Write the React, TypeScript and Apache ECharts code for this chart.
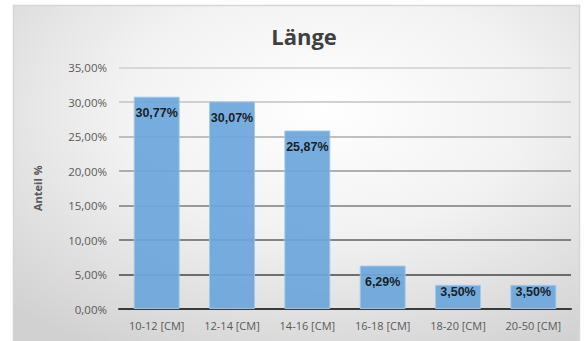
import React, { useEffect, useRef } from "react";
import * as echarts from "echarts";

const categories = ["10-12 [CM]", "12-14 [CM]", "14-16 [CM]", "16-18 [CM]", "18-20 [CM]", "20-50 [CM]"];
const shares = [30.77, 30.07, 25.87, 6.29, 3.5, 3.5];
const yTicks = [0, 5, 10, 15, 20, 25, 30, 35];

const fmt = (v: number) => v.toFixed(2).replace(".", ",") + "%";

// grid lines darken towards the baseline
const gridColors = ["#3a3a3a", "#454545", "#626262", "#7c7c7c", "#979797", "#adadad", "#c2c2c2", "#d0d0d0"];

export default function App() {
  const ref = useRef<HTMLDivElement>(null);
  useEffect(() => {
    if (!ref.current) return;
    const chart = echarts.init(ref.current, null, { renderer: "svg" });
    chart.setOption({
      animation: false,
      backgroundColor: "#ffffff",
      graphic: [
        {
          type: "rect",
          z: -10,
          shape: { x: 13.5, y: 5.5, width: 566, height: 345 },
          style: {
            fill: {
              type: "radial",
              x: 0.55,
              y: 0.3,
              r: 0.8,
              colorStops: [
                { offset: 0, color: "#ffffff" },
                { offset: 0.45, color: "#f2f2f2" },
                { offset: 1, color: "#d1d1d1" },
              ],
            },
            stroke: "#d6d6d6",
            lineWidth: 1.5,
          },
        },
      ],
      title: {
        text: "Länge",
        left: 299,
        top: 20,
        textAlign: "center",
        textStyle: { fontFamily: "Open Sans", fontSize: 22, fontWeight: "bold", color: "#404040" },
      },
      grid: { left: 119, right: 14, top: 67.5, bottom: 32, containLabel: false },
      xAxis: {
        type: "category",
        data: categories,
        axisTick: { show: false },
        axisLine: { show: true, lineStyle: { color: "#3a3a3a", width: 2 } },
        axisLabel: { fontFamily: "Open Sans", fontSize: 11, color: "#595959", margin: 11 },
      },
      yAxis: {
        type: "value",
        min: yTicks[0],
        max: yTicks[yTicks.length - 1],
        interval: 5,
        name: "Anteil %",
        nameLocation: "middle",
        nameGap: 76,
        nameTextStyle: { fontFamily: "Open Sans", fontSize: 11, fontWeight: "bold", color: "#595959" },
        axisLine: { show: false },
        axisTick: { show: false },
        axisLabel: {
          fontFamily: "Open Sans",
          fontSize: 11.5,
          color: "#595959",
          margin: 12,
          formatter: (v: number) => fmt(v),
        },
        splitLine: { lineStyle: { color: gridColors, width: 1.6 } },
      },
      series: [
        {
          type: "bar",
          barWidth: "61%",
          data: shares.map((v) => ({
            value: v,
            label: { distance: v < 5 ? 1 : 10 },
          })),
          itemStyle: { color: "#6ca6db", opacity: 0.93, borderColor: "#a4c8ea", borderWidth: 1 },
          label: {
            show: true,
            position: "insideTop",
            formatter: (p: any) => fmt(p.value),
            fontFamily: "Liberation Sans",
            fontSize: 12.5,
            fontWeight: "bold",
            color: "#111111",
          },
        },
      ],
    });
    return () => chart.dispose();
  }, []);
  return <div ref={ref} style={{ width: 585, height: 341, position: "absolute", left: 0, top: 0 }} />;
}
